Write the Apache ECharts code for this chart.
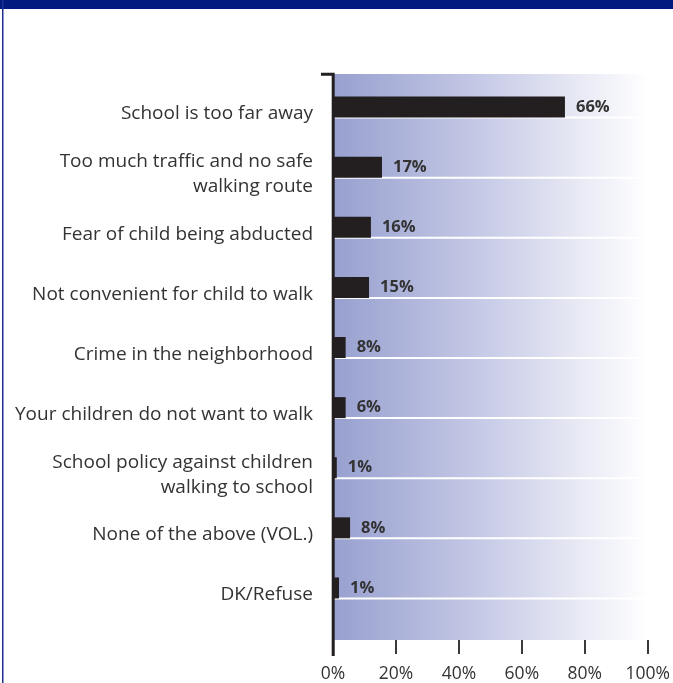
<!DOCTYPE html>
<html>
<head>
<meta charset="utf-8">
<script src="https://cdn.jsdelivr.net/npm/echarts@6/dist/echarts.min.js"></script>
<style>
html,body{margin:0;padding:0;background:#fff;}
#c{width:673px;height:683px;}
</style>
</head>
<body>
<div id="c"></div>
<script>
// Categories (top to bottom)
const categories = [
  "School is too far away",
  "Too much traffic and no safe\nwalking route",
  "Fear of child being abducted",
  "Not convenient for child to walk",
  "Crime in the neighborhood",
  "Your children do not want to walk",
  "School policy against children\nwalking to school",
  "None of the above (VOL.)",
  "DK/Refuse"
];
// Bar lengths as drawn in the picture (percent of axis)
const barValues = [73.4, 15.5, 12, 11.4, 4, 4, 1.2, 5.4, 1.9];
// Printed value labels
const valueLabels = ["66%", "17%", "16%", "15%", "8%", "6%", "1%", "8%", "1%"];
// X-axis tick labels
const xTicks = [0, 20, 40, 60, 80, 100];

const FONT = "Open Sans";
const chart = echarts.init(document.getElementById('c'), null, {renderer: 'canvas'});

const option = {
  animation: false,
  backgroundColor: '#fff',
  graphic: [
    {type: 'rect', shape: {x: 0, y: 0, width: 673, height: 9}, style: {fill: '#001a80'}, z: 100},
    {type: 'rect', shape: {x: 2, y: 0, width: 1.5, height: 683}, style: {fill: '#1f2f8f'}, z: 100},
    {type: 'polyline', shape: {points: [[321, 74.2], [333.2, 74.2], [333.2, 656]]},
     style: {stroke: '#231f20', lineWidth: 3, fill: null}, z: 100}
  ],
  grid: [
    {left: 333, right: 24, top: 74, bottom: 40, show: true, borderWidth: 0,
     backgroundColor: new echarts.graphic.LinearGradient(0, 0, 1, 0, [
       {offset: 0, color: '#97a0cf'},
       {offset: 0.45, color: '#c4c8e5'},
       {offset: 1, color: '#ffffff'}
     ])},
    {left: 333, right: 24, top: 77, bottom: 65},
    {left: 333, right: 24, top: 84, bottom: 58}
  ],
  xAxis: [
    {gridIndex: 0, type: 'value', min: 0, max: 100, interval: 20,
     axisLine: {show: false}, splitLine: {show: false},
     axisTick: {show: true, length: 14, lineStyle: {color: '#3a3a3a', width: 2}},
     axisLabel: {margin: 25, color: '#333', fontSize: 17.5, fontFamily: FONT,
       formatter: v => xTicks.indexOf(v) >= 0 ? v + '%' : ''}},
    {gridIndex: 1, type: 'value', min: 0, max: 100, show: false},
    {gridIndex: 2, type: 'value', min: 0, max: 100, show: false}
  ],
  yAxis: [
    {gridIndex: 0, type: 'category', data: categories, show: false},
    {gridIndex: 1, type: 'category', data: categories, inverse: true, show: false},
    {gridIndex: 2, type: 'category', data: categories, inverse: true,
     axisLine: {show: false}, axisTick: {show: false}, splitLine: {show: false},
     axisLabel: {margin: 20, color: '#333', fontSize: 19, fontFamily: FONT,
       lineHeight: 25, align: 'right'}}
  ],
  series: [
    {
      type: 'custom', xAxisIndex: 1, yAxisIndex: 1, z: 1, silent: true,
      data: categories.map((c, i) => [0, i]),
      renderItem: function (params, api) {
        const i = api.value(1);
        const p0 = api.coord([0, i]);
        const p1 = api.coord([100, i]);
        const y = p0[1] + 10.5;
        return {type: 'line', shape: {x1: p0[0], y1: y, x2: p1[0], y2: y},
                style: {stroke: '#ffffff', lineWidth: 2}};
      }
    },
    {
      type: 'bar', xAxisIndex: 1, yAxisIndex: 1, z: 5,
      data: barValues, barWidth: 21,
      itemStyle: {color: '#231f20'},
      label: {show: true, position: 'right', distance: 11,
        color: '#333', fontWeight: 'bold', fontSize: 16.5, fontFamily: FONT,
        formatter: p => valueLabels[p.dataIndex]}
    }
  ]
};
chart.setOption(option);
</script>
</body>
</html>
